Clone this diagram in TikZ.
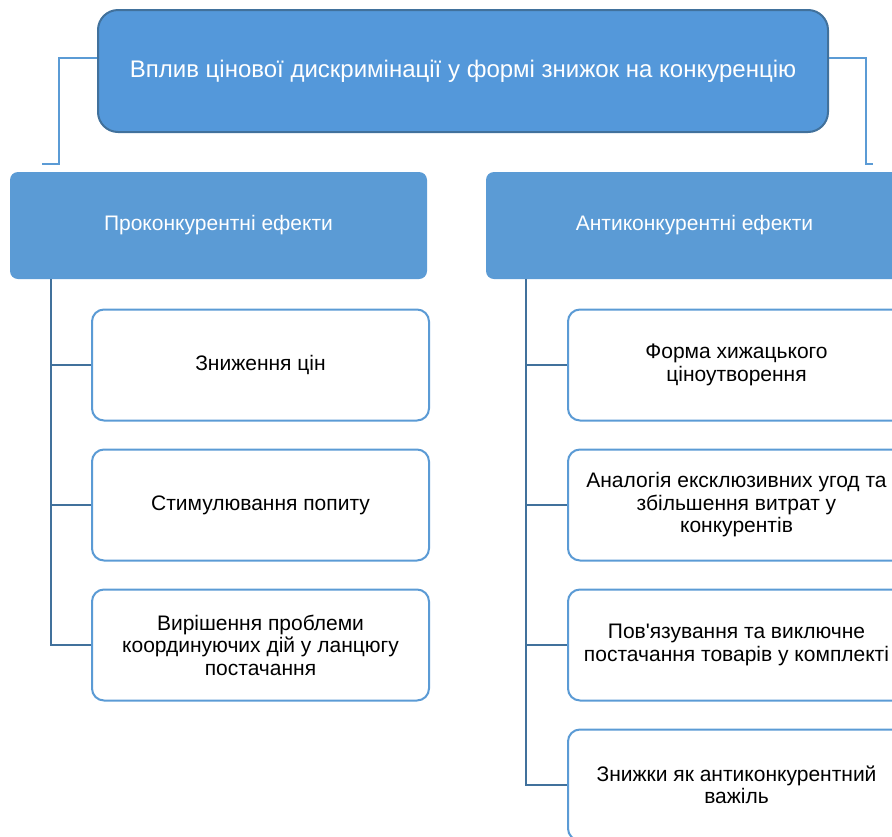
\documentclass[tikz,border=0pt]{standalone}
\usepackage{fontspec}
\setmainfont{Liberation Sans}[Ligatures=TeXOff]
\usetikzlibrary{positioning}
\definecolor{topfill}{RGB}{84,152,218}
\definecolor{topline}{RGB}{65,113,156}
\definecolor{headfill}{RGB}{91,155,213}
\definecolor{trunkcol}{RGB}{65,113,156}
\tikzset{
  topbox/.style={draw=topline,line width=2pt,fill=topfill,rounded corners=20pt,
    minimum width=730pt,minimum height=122pt,text=white,
    font=\fontsize{24}{28}\selectfont},
  headbox/.style={fill=headfill,rounded corners=8pt,minimum width=417pt,
    minimum height=107pt,text=white,font=\fontsize{21}{25}\selectfont},
  itembox/.style={draw=headfill,line width=2pt,fill=white,rounded corners=12pt,
    minimum width=337pt,minimum height=111pt,align=center,
    font=\fontsize{21}{22.5}\selectfont},
  topcon/.style={draw=headfill,line width=2pt},
  trunkcon/.style={draw=trunkcol,line width=2pt},
}
\begin{document}
\begin{tikzpicture}[x=1pt,y=-1pt]
\useasboundingbox (0,0) rectangle (892,836);
\clip (0,0) rectangle (892,836);
\node[topbox] (top) at (463,71) {Вплив цінової дискримінації у формі знижок на конкуренцію};
\node[headbox] (pro) at (218.5,225.5) {Проконкурентні ефекти};
\node[headbox] (anti) at (694.5,225.5) {Антиконкурентні ефекти};
\coordinate (lend) at (42,164);
\coordinate (rend) at (873,164);
\draw[topcon] ([yshift=13pt]top.west) -- ++(-38,0) |- (lend);
\draw[topcon] ([yshift=13pt]top.east) -- ++(37,0) |- (rend);
\node[itembox] (p1) at (260.5,365) {Зниження цін};
\node[itembox] (p2) at (260.5,505) {Стимулювання попиту};
\node[itembox] (p3) at (260.5,645) {Вирішення проблеми\\координуючих дій у ланцюгу\\постачання};
\node[itembox] (a1) at (736.5,365) {Форма хижацького\\ціноутворення};
\node[itembox] (a2) at (736.5,505) {Аналогія ексклюзивних угод та\\збільшення витрат у\\конкурентів};
\node[itembox] (a3) at (736.5,645) {Пов'язування та виключне\\постачання товарів у комплекті};
\node[itembox] (a4) at (736.5,785) {Знижки як антиконкурентний\\важіль};
\coordinate (ltop) at (51,279);
\coordinate (rtop) at (526,279);
\draw[trunkcon] (ltop) |- (p3.west);
\foreach \n in {p1,p2}
  \draw[trunkcon] (ltop |- \n.west) -- (\n.west);
\draw[trunkcon] (rtop) |- (a4.west);
\foreach \n in {a1,a2,a3}
  \draw[trunkcon] (rtop |- \n.west) -- (\n.west);
\end{tikzpicture}
\end{document}
